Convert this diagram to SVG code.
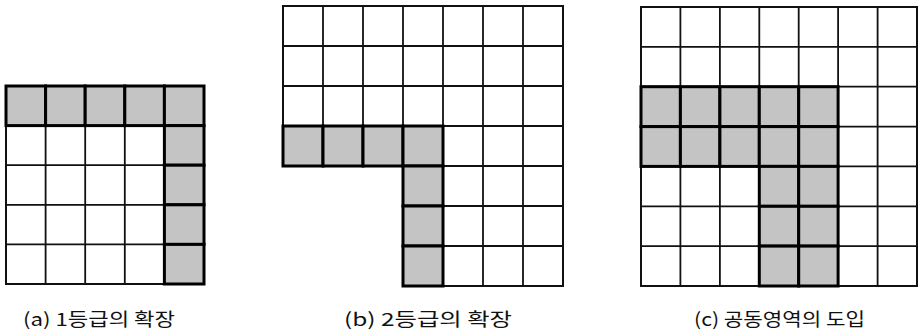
<svg xmlns="http://www.w3.org/2000/svg" width="918" height="336" viewBox="0 0 918 336">
<style>
.bg{fill:#fff;stroke:#111;stroke-width:2}
.ln{fill:none;stroke:#111;stroke-width:1.8}
.s{fill:#c4c4c4;stroke:#000;stroke-width:3}
.t{font-family:"Noto Sans CJK KR","Liberation Sans",sans-serif;font-size:18px;fill:#111}
</style>
<rect width="918" height="336" fill="#fff"/>
<g id="panel-a">
<rect class="bg" x="6" y="86" width="198" height="198"/>
<path class="ln" d="M45.6 86V284M85.2 86V284M124.8 86V284M164.4 86V284M6 125.6H204M6 165.2H204M6 204.8H204M6 244.4H204"/>
<rect class="s" x="6" y="86" width="39.6" height="39.6"/>
<rect class="s" x="45.6" y="86" width="39.6" height="39.6"/>
<rect class="s" x="85.2" y="86" width="39.6" height="39.6"/>
<rect class="s" x="124.8" y="86" width="39.6" height="39.6"/>
<rect class="s" x="164.4" y="86" width="39.6" height="39.6"/>
<rect class="s" x="164.4" y="125.6" width="39.6" height="39.6"/>
<rect class="s" x="164.4" y="165.2" width="39.6" height="39.6"/>
<rect class="s" x="164.4" y="204.8" width="39.6" height="39.6"/>
<rect class="s" x="164.4" y="244.4" width="39.6" height="39.6"/>
<text class="t" x="23" y="326" textLength="152" lengthAdjust="spacingAndGlyphs">(a) 1등급의 확장</text>
</g>
<g id="panel-b">
<path class="bg" d="M283 6H563V286H403V166H283Z"/>
<path class="ln" d="M323 6V166M363 6V166M403 6V286M443 6V286M483 6V286M523 6V286M283 46H563M283 86H563M283 126H563M283 166H563M403 206H563M403 246H563"/>
<rect class="s" x="283" y="126" width="40" height="40"/>
<rect class="s" x="323" y="126" width="40" height="40"/>
<rect class="s" x="363" y="126" width="40" height="40"/>
<rect class="s" x="403" y="126" width="40" height="40"/>
<rect class="s" x="403" y="166" width="40" height="40"/>
<rect class="s" x="403" y="206" width="40" height="40"/>
<rect class="s" x="403" y="246" width="40" height="40"/>
<text class="t" x="344" y="326" textLength="168" lengthAdjust="spacingAndGlyphs">(b) 2등급의 확장</text>
</g>
<g id="panel-c">
<rect class="bg" x="641" y="7" width="276" height="279"/>
<path class="ln" d="M680.4 7V286M719.9 7V286M759.3 7V286M798.7 7V286M838.1 7V286M877.6 7V286M641 46.9H917M641 86.7H917M641 126.6H917M641 166.4H917M641 206.3H917M641 246.1H917"/>
<rect class="s" x="641" y="86.7" width="39.4" height="39.9"/>
<rect class="s" x="680.4" y="86.7" width="39.5" height="39.9"/>
<rect class="s" x="719.9" y="86.7" width="39.4" height="39.9"/>
<rect class="s" x="759.3" y="86.7" width="39.4" height="39.9"/>
<rect class="s" x="798.7" y="86.7" width="39.4" height="39.9"/>
<rect class="s" x="641" y="126.6" width="39.4" height="39.8"/>
<rect class="s" x="680.4" y="126.6" width="39.5" height="39.8"/>
<rect class="s" x="719.9" y="126.6" width="39.4" height="39.8"/>
<rect class="s" x="759.3" y="126.6" width="39.4" height="39.8"/>
<rect class="s" x="798.7" y="126.6" width="39.4" height="39.8"/>
<rect class="s" x="759.3" y="166.4" width="39.4" height="39.9"/>
<rect class="s" x="798.7" y="166.4" width="39.4" height="39.9"/>
<rect class="s" x="759.3" y="206.3" width="39.4" height="39.8"/>
<rect class="s" x="798.7" y="206.3" width="39.4" height="39.8"/>
<rect class="s" x="759.3" y="246.1" width="39.4" height="39.9"/>
<rect class="s" x="798.7" y="246.1" width="39.4" height="39.9"/>
<text class="t" x="694" y="326" textLength="171" lengthAdjust="spacingAndGlyphs">(c) 공동영역의 도입</text>
</g>
</svg>
